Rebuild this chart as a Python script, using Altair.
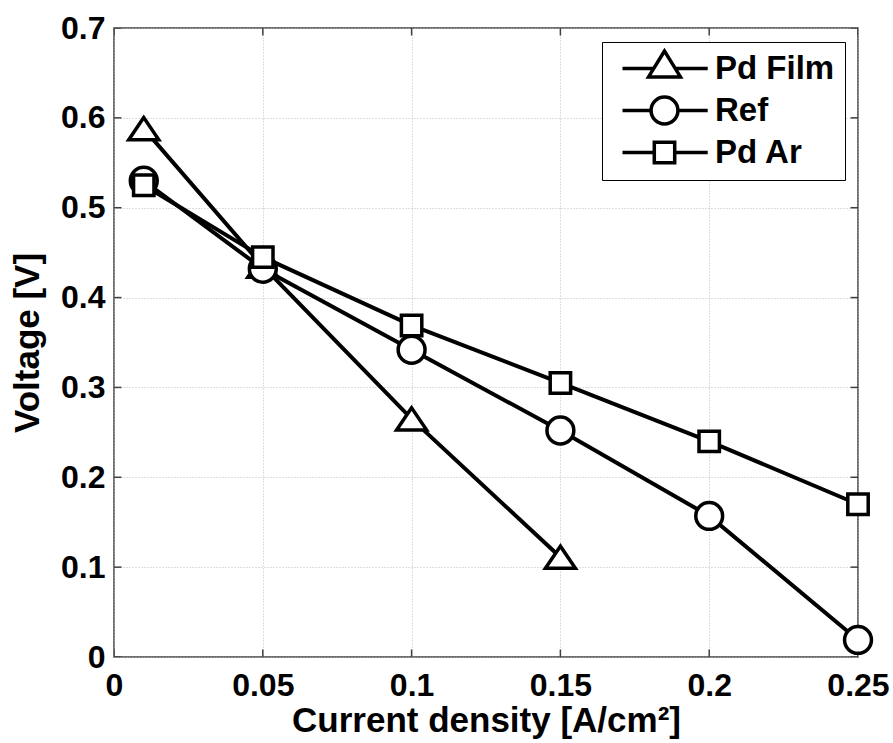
import altair as alt
import pandas as pd

# ---------------- data ----------------
series_names = ["Pd Film", "Ref", "Pd Ar"]
pd_film_x = [0.01, 0.05, 0.10, 0.15]
pd_film_v = [0.588, 0.435, 0.265, 0.111]
ref_x = [0.01, 0.05, 0.10, 0.15, 0.20, 0.25]
ref_v = [0.530, 0.432, 0.342, 0.252, 0.157, 0.019]
pd_ar_x = [0.01, 0.05, 0.10, 0.15, 0.20, 0.25]
pd_ar_v = [0.525, 0.445, 0.369, 0.305, 0.240, 0.170]

x_ticks = [0, 0.05, 0.1, 0.15, 0.2, 0.25]
y_ticks = [0, 0.1, 0.2, 0.3, 0.4, 0.5, 0.6, 0.7]

rows = []
for name, xs, vs in zip(series_names, [pd_film_x, ref_x, pd_ar_x], [pd_film_v, ref_v, pd_ar_v]):
    for i, (xv, yv) in enumerate(zip(xs, vs)):
        rows.append({"series": name, "x": xv, "v": yv, "i": i})
df = pd.DataFrame(rows)

# marker shapes (custom paths in unit box)
marker_paths = [
    "M0,-0.92L-1.25,0.92L1.25,0.92Z",
    "M-1.12,0A1.12,1.12,0,1,0,1.12,0A1.12,1.12,0,1,0,-1.12,0Z",
    "M-0.85,-0.85L0.85,-0.85L0.85,0.85L-0.85,0.85Z",
]
# legend symbols: line + marker + line
legend_paths = [
    "M-0.5,0L2.1,0M3,-1.46L1.67,0.7L4.33,0.7ZM3.9,0L6.6,0",
    "M-0.5,0L1.88,0M1.88,0A1.12,1.12,0,1,0,4.12,0A1.12,1.12,0,1,0,1.88,0ZM4.12,0L6.6,0",
    "M-0.5,0L2.15,0M2.15,-0.85L3.85,-0.85L3.85,0.85L2.15,0.85ZM3.85,0L6.6,0",
]

FONT = "Liberation Sans"
x_scale = alt.Scale(domain=[x_ticks[0], x_ticks[-1]], nice=False, zero=False)
y_scale = alt.Scale(domain=[y_ticks[0], y_ticks[-1]], nice=False, zero=False)

x_axis = alt.Axis(
    values=x_ticks, format="~g", title="Current density [A/cm²]",
    ticks=False, tickSize=0, domain=False, labelPadding=13,
    labelFontSize=32, labelFont=FONT, labelFontWeight="bold", labelColor="black",
    titleFontSize=35, titleFont=FONT, titleFontWeight="bold", titleColor="black",
    titleY=46, titleBaseline="top",
    grid=True, gridColor="#bdbdbd", gridDash=[1, 2], gridWidth=1,
    labelFlush=False,
)
y_axis = alt.Axis(
    values=y_ticks, format="~g", title="Voltage [V]",
    ticks=False, tickSize=0, domain=False, labelPadding=9,
    labelFontSize=32, labelFont=FONT, labelFontWeight="bold", labelColor="black",
    titleFontSize=35, titleFont=FONT, titleFontWeight="bold", titleColor="black",
    titleX=-69, titleBaseline="bottom",
    grid=True, gridColor="#bdbdbd", gridDash=[1, 2], gridWidth=1,
    labelFlush=False,
)

base = alt.Chart(df)

lines = base.mark_line(color="black", strokeWidth=4).encode(
    x=alt.X("x:Q", scale=x_scale, axis=x_axis),
    y=alt.Y("v:Q", scale=y_scale, axis=y_axis),
    detail="series:N",
    order="i:Q",
)

points = base.mark_point(
    size=576, filled=False, fill="white", fillOpacity=1, stroke="black",
    strokeWidth=3.5, opacity=1,
).encode(
    x=alt.X("x:Q", scale=x_scale),
    y=alt.Y("v:Q", scale=y_scale),
    shape=alt.Shape("series:N", scale=alt.Scale(domain=series_names, range=marker_paths), legend=None),
)

# invisible layer that only provides the legend (line + marker symbols)
legend_layer = base.mark_point(
    size=576, filled=False, stroke="black", strokeWidth=3.5, opacity=0,
).encode(
    x=alt.X("x:Q", scale=x_scale),
    y=alt.Y("v:Q", scale=y_scale),
    shape=alt.Shape(
        "series:N",
        scale=alt.Scale(domain=series_names, range=legend_paths),
        legend=alt.Legend(
            title=None, orient="none", legendX=488, legendY=14,
            strokeColor="black", fillColor="white", padding=10,
            labelFont=FONT, labelFontSize=33, labelFontWeight="bold", labelColor="black",
            labelOffset=70, rowPadding=4, symbolSize=576, symbolOpacity=1,
            symbolStrokeWidth=3.5, symbolStrokeColor="black", symbolFillColor="white",
            labelLimit=300,
        ),
    ),
)

# inward ticks on all four sides (clipped to the plot area)
xt_df = pd.DataFrame({"x": x_ticks * 2, "v": [y_ticks[0]] * len(x_ticks) + [y_ticks[-1]] * len(x_ticks)})
yt_df = pd.DataFrame({"x": [x_ticks[0]] * len(y_ticks) + [x_ticks[-1]] * len(y_ticks), "v": y_ticks * 2})

xticks_layer = alt.Chart(xt_df).mark_tick(orient="vertical", size=15, thickness=1.5, color="#404040", clip=True, opacity=1).encode(
    x=alt.X("x:Q", scale=x_scale),
    y=alt.Y("v:Q", scale=y_scale),
)
yticks_layer = alt.Chart(yt_df).mark_tick(orient="horizontal", size=15, thickness=1.5, color="#404040", clip=True, opacity=1).encode(
    x=alt.X("x:Q", scale=x_scale),
    y=alt.Y("v:Q", scale=y_scale),
)

chart = alt.layer(xticks_layer, yticks_layer, lines, points, legend_layer).resolve_scale(
    shape="independent"
).properties(
    width=744, height=629,
    autosize=alt.AutoSizeParams(type="none"),
    padding={"left": 114, "top": 28, "right": 35, "bottom": 86},
    background="white",
).configure_view(
    stroke="#404040", strokeWidth=1.5,
)

chart.save("out.html", embed_options={"renderer": "svg", "actions": False})
